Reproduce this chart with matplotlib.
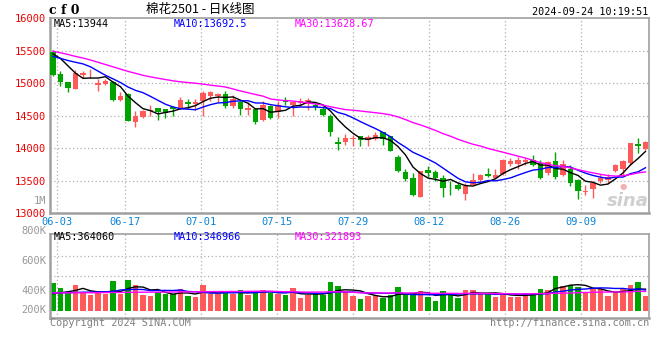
import numpy as np
import pandas as pd
import matplotlib
matplotlib.use('Agg')
import matplotlib.pyplot as plt

# daily OHLC for CF2501 (80 sessions)
opens = [15485, 15133, 15010, 14913, 15117, 15133, 14964, 14985, 15010, 14735, 14837, 14398, 14475, 14567, 14618, 14602,
         14628, 14607, 14715, 14674, 14720, 14796, 14796, 14837, 14643, 14704, 14592, 14602, 14429, 14653, 14551, 14735,
         14669, 14694, 14684, 14669, 14607, 14500, 14092, 14092, 14143, 14189, 14133, 14148, 14245, 14184, 13858, 13628,
         13536, 13250, 13664, 13628, 13536, 13419, 13429, 13291, 13434, 13506, 13603, 13541, 13597, 13756, 13750, 13786,
         13817, 13776, 13613, 13796, 13582, 13684, 13505, 13332, 13368, 13496, 13511, 13644, 13674, 13776, 14072, 13990]
highs = [15510, 15189, 15010, 15204, 15189, 15224, 15061, 15061, 15026, 14857, 14847, 14577, 14592, 14669, 14618, 14602,
         14653, 14786, 14755, 14755, 14883, 14873, 14847, 14873, 14822, 14720, 14704, 14618, 14725, 14669, 14720, 14786,
         14720, 14770, 14770, 14704, 14643, 14531, 14174, 14225, 14204, 14189, 14210, 14250, 14255, 14194, 13888, 13684,
         13623, 13654, 13725, 13664, 13582, 13496, 13480, 13470, 13623, 13597, 13689, 13674, 13827, 13842, 13868, 13853,
         13888, 13817, 13801, 13944, 13822, 13735, 13521, 13429, 13496, 13597, 13597, 13750, 13817, 14087, 14164, 14118]
lows = [15110, 14959, 14862, 14908, 15082, 15077, 14873, 14970, 14720, 14730, 14414, 14332, 14470, 14500, 14439, 14460,
        14500, 14602, 14618, 14592, 14500, 14725, 14715, 14618, 14618, 14516, 14516, 14378, 14418, 14454, 14465, 14669,
        14490, 14643, 14592, 14582, 14500, 14194, 13980, 14056, 14036, 14036, 14031, 14123, 14056, 13950, 13633, 13496,
        13271, 13245, 13562, 13496, 13250, 13276, 13352, 13200, 13429, 13460, 13552, 13531, 13587, 13725, 13684, 13735,
        13725, 13521, 13582, 13531, 13567, 13424, 13220, 13276, 13230, 13470, 13470, 13633, 13582, 13735, 13919, 13965]
closes = [15117, 15010, 14924, 15158, 15158, 15143, 15005, 15026, 14745, 14806, 14424, 14495, 14567, 14592, 14551, 14541,
          14597, 14745, 14674, 14715, 14847, 14857, 14837, 14643, 14755, 14597, 14623, 14398, 14669, 14470, 14669, 14704,
          14717, 14730, 14735, 14628, 14516, 14245, 14072, 14164, 14153, 14123, 14169, 14210, 14143, 13960, 13644, 13526,
          13281, 13644, 13613, 13541, 13389, 13414, 13368, 13414, 13506, 13582, 13567, 13587, 13817, 13796, 13812, 13817,
          13735, 13546, 13786, 13557, 13760, 13470, 13337, 13342, 13470, 13541, 13557, 13735, 13796, 14087, 14031, 14102]
# volume in thousands of lots
volumes = [463, 380, 290, 430, 307, 262, 290, 279, 497, 279, 514, 430, 262, 252, 319, 279,
           273, 363, 252, 234, 430, 279, 279, 319, 279, 352, 262, 335, 352, 290, 279, 262,
           374, 218, 262, 279, 262, 480, 414, 319, 252, 195, 252, 262, 206, 262, 396, 262,
           290, 329, 234, 167, 329, 290, 218, 347, 347, 273, 290, 234, 290, 234, 234, 290,
           279, 363, 347, 586, 414, 430, 402, 290, 357, 357, 252, 290, 357, 430, 480, 252]

# moving-average values before enough sessions are on screen
ma5_head = [15449, 15378, 15265, 15153]
ma10_head = [15410, 15380, 15347, 15320, 15295, 15250, 15185, 15120, 15065]
ma30_head = [15490, 15465, 15440, 15410, 15385, 15355, 15320, 15285, 15250, 15215, 15180, 15150, 15120, 15095, 15075,
             15055, 15035, 15020, 15008, 14998, 14985, 14968, 14955, 14940, 14910, 14880, 14852, 14825, 14800]
vma5_head = [285, 300, 318, 340]
vma10_head = [300, 302, 305, 306, 310, 312, 315, 318, 322]
vma30_head = [298, 298, 299, 300, 301, 301, 302, 304, 305, 306, 308, 309, 310, 311, 311,
              312, 314, 315, 316, 317, 318, 320, 321, 321, 322, 323, 325, 326, 327]

tick_idx = [1, 10, 20, 30, 40, 50, 60, 70]
tick_labels = ['06-03', '06-17', '07-01', '07-15', '07-29', '08-12', '08-26', '09-09']
price_ticks = [13000, 13500, 14000, 14500, 15000, 15500, 16000]
vol_labels = ['800K', '600K', '400K', '200K']

RED = '#ff5a5a'
GREEN = '#00a400'
GRID = '#b0b0b0'
MONO = 'DejaVu Sans Mono'
W, H = 660, 360


def moving_avg(values, n, head):
    ma = pd.Series(values, dtype=float).rolling(n).mean().to_numpy()
    ma[:len(head)] = head
    return ma


def fx(x):
    return x / W


def fy(y):
    return 1 - y / H


o = np.array(opens); c = np.array(closes)
hi = np.array(highs); lo = np.array(lows)
vol = np.array(volumes)
idx = np.arange(len(c))
up = c >= o
colors = np.where(up, RED, GREEN)

fig = plt.figure(figsize=(6.6, 3.6), dpi=100)
ax = fig.add_axes([fx(50.5), fy(213.3), fx(598.5), 195.3 / H])
axv = fig.add_axes([fx(50.5), fy(317.7), fx(598.5), 83.4 / H])

xlim = (-0.33, len(c) - 0.53)
# sina spaces its date gridlines slightly wider than the candles
tick_pos = [i * 1.0125 - 0.5 for i in tick_idx]

# sina watermark, under the candles
fig.text(fx(628), fy(201), 'sina', family='DejaVu Sans', weight='bold', style='italic', fontsize=13,
         ha='center', va='center', color='#cfcfcf', zorder=0)
fig.text(fx(623), fy(186), '●', family='DejaVu Sans', fontsize=6, ha='center', va='center',
         color='#f4b0b0', zorder=0)
ax.patch.set_alpha(0)

# price panel
ax.vlines(idx, lo, hi, colors=colors, linewidth=1, zorder=2)
body_lo = np.minimum(o, c)
body_h = np.maximum(np.abs(c - o), 12)
ax.bar(idx, body_h, bottom=body_lo, width=0.7, color=colors, linewidth=0, zorder=3)
ax.plot(idx, moving_avg(c, 5, ma5_head), color='black', lw=1, zorder=4)
ax.plot(idx, moving_avg(c, 10, ma10_head), color='#0000ff', lw=1, zorder=4)
ax.plot(idx, moving_avg(c, 30, ma30_head), color='#ff00ff', lw=1, zorder=4)
ax.set_xlim(xlim)
ax.set_ylim(13000, 16000)
for p in price_ticks[1:-1]:
    ax.axhline(p, color=GRID, lw=0.9, ls=(0, (1, 2)), zorder=1)
for t in tick_pos:
    ax.axvline(t, color=GRID, lw=0.9, ls=(0, (1, 2)), zorder=1)
ax.set_yticks(price_ticks)
ax.set_yticklabels([str(p) for p in price_ticks], color='#ee0000', family=MONO, fontsize=7.5)
ax.set_xticks(tick_pos)
ax.set_xticklabels(tick_labels, color='#0a84d6', family=MONO, fontsize=7.5)
ax.tick_params(length=0, pad=3)

# volume panel
axv.bar(idx, vol, width=0.75, color=colors, linewidth=0, zorder=2)
axv.plot(idx, moving_avg(vol, 5, vma5_head), color='black', lw=1, zorder=3)
axv.plot(idx, moving_avg(vol, 10, vma10_head), color='#0000ff', lw=1, zorder=3)
axv.plot(idx, moving_avg(vol, 30, vma30_head), color='#ff00ff', lw=1, zorder=3)
axv.set_xlim(xlim)
axv.set_ylim(-117, 1280)
for t in tick_pos:
    axv.axvline(t, color=GRID, lw=0.9, ls=(0, (1, 2)), zorder=1)
for fr in [0.743, 0.503]:
    axv.axhline(axv.get_ylim()[0] + fr * (axv.get_ylim()[1] - axv.get_ylim()[0]),
                color=GRID, lw=0.9, ls=(0, (1, 2)), zorder=1)
axv.set_xticks([])
axv.set_yticks([])
for lab, yy in zip(vol_labels, [231, 261, 291, 310]):
    fig.text(fx(46), fy(yy), lab, ha='right', va='center', color='#999999', family=MONO, fontsize=7.5)

for a in (ax, axv):
    for s in a.spines.values():
        s.set_color('#a0a0a0')
        s.set_linewidth(1.2)
    a.spines['left'].set_linewidth(1.8)
    a.spines['bottom'].set_linewidth(1.8)

# header and captions
fig.text(fx(49), fy(11), 'c f 0', family='DejaVu Serif', weight='bold', fontsize=9, va='center')
fig.text(fx(200), fy(10), '棉花2501 - 日K线图', family=['Noto Sans CJK SC', 'DejaVu Sans'],
         fontsize=9, ha='center', va='center')
fig.text(fx(648), fy(12), '2024-09-24 10:19:51', family=MONO, fontsize=7.3, ha='right', va='center')
fig.text(fx(54), fy(24), 'MA5:13944', family=MONO, fontsize=7.3, va='center', color='black')
fig.text(fx(174), fy(24), 'MA10:13692.5', family=MONO, fontsize=7.3, va='center', color='#0000ff')
fig.text(fx(295), fy(24), 'MA30:13628.67', family=MONO, fontsize=7.3, va='center', color='#ff00ff')
fig.text(fx(54), fy(237.5), 'MA5:364060', family=MONO, fontsize=7.3, va='center', color='black')
fig.text(fx(174), fy(237.5), 'MA10:346966', family=MONO, fontsize=7.3, va='center', color='#0000ff')
fig.text(fx(295), fy(237.5), 'MA30:321893', family=MONO, fontsize=7.3, va='center', color='#ff00ff')
fig.text(fx(46), fy(201), '1M', family=MONO, fontsize=7.5, ha='right', va='center', color='#999999')
fig.text(fx(50), fy(323.5), 'Copyright 2024 SINA.COM', family=MONO, fontsize=7.3, va='center', color='#808080')
fig.text(fx(649), fy(323.5), 'http://finance.sina.com.cn', family=MONO, fontsize=7.3, ha='right', va='center',
         color='#808080')

fig.savefig('out.png', dpi=100)
